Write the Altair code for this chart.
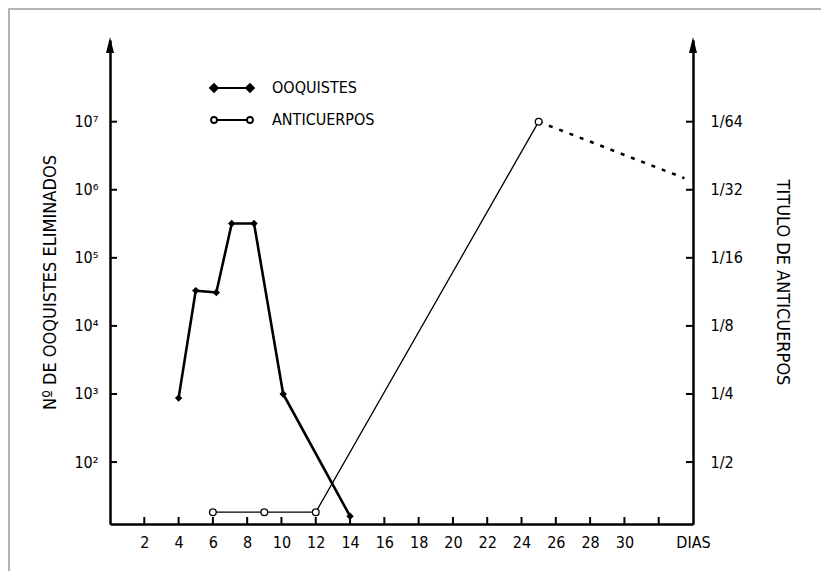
import altair as alt
import pandas as pd

# ---------------- data ----------------
ooq_days = [4, 5, 6.2, 7.1, 8.4, 10.1, 14]
ooq_counts = [870, 33000, 31000, 320000, 320000, 1000, 16]

anti_days = [6, 9, 12, 25]
anti_recip = [1.2, 1.2, 1.2, 64]          # reciprocal of the antibody titre (1/64 -> 64)
anti_dot_days = [25, 33.5]
anti_dot_recip = [64, 36]

x_ticks = list(range(2, 35, 2))
x_labels = [str(v) for v in range(2, 31, 2)] + ["", "DIAS"]
left_ticks = [1e2, 1e3, 1e4, 1e5, 1e6, 1e7]
left_labels = ["10²", "10³", "10⁴", "10⁵", "10⁶", "10⁷"]
right_ticks = [2, 4, 8, 16, 32, 64]
right_labels = ["1/2", "1/4", "1/8", "1/16", "1/32", "1/64"]
series = ["OOQUISTES", "ANTICUERPOS"]

FONT = "Liberation Sans Narrow, DejaVu Sans Condensed, Roboto Condensed, Arial Narrow, sans-serif"
W, H = 583, 484


def label_expr(vals, labels):
    expr = "''"
    for v, l in reversed(list(zip(vals, labels))):
        expr = f"datum.value == {v} ? '{l}' : ({expr})"
    return expr


xs = alt.Scale(domain=[0, 34], nice=False, zero=False)
ys_left = alt.Scale(type="log", domain=[10 ** 1.09, 10 ** 8.2], nice=False)
ys_right = alt.Scale(type="log", base=2, domain=[2 ** 0.09, 2 ** 7.2], nice=False)

common_axis = dict(ticks=False, grid=False, domainWidth=2.5, domainColor="black",
                   labelColor="black", labelOverlap=False, labelFlush=False,
                   titleColor="black", titleFontWeight="normal")

x_axis = alt.Axis(values=x_ticks, labelExpr=label_expr(x_ticks, x_labels),
                  labelFontSize=16, labelPadding=10, title=None, **common_axis)
left_axis = alt.Axis(values=left_ticks, labelExpr=label_expr(left_ticks, left_labels),
                     orient="left", labelFontSize=16, labelPadding=12,
                     title="Nº DE OOQUISTES ELIMINADOS", titleFontSize=18, titlePadding=14,
                     **common_axis)
right_axis = alt.Axis(values=right_ticks, labelExpr=label_expr(right_ticks, right_labels),
                      orient="right", labelFontSize=16, labelPadding=17,
                      title="TITULO DE ANTICUERPOS", titleFontSize=18, titlePadding=30,
                      **common_axis)


def X(field):
    return alt.X(field, type="quantitative", scale=xs, axis=x_axis)


ooq_df = pd.DataFrame({"dia": ooq_days, "n": ooq_counts})
anti_df = pd.DataFrame({"dia": anti_days, "t": anti_recip})
dot_df = pd.DataFrame({"dia": anti_dot_days, "t": anti_dot_recip})
one = pd.DataFrame({"k": [0]})

# legend symbols (custom paths: short line with a marker at each end)
path_ooq = "M-1.8,0L1.8,0M-2.2,0L-1.8,-0.4L-1.4,0L-1.8,0.4ZM1.4,0L1.8,-0.4L2.2,0L1.8,0.4Z"
path_anti = ("M-1.5,0L1.5,0M-2.1,0A0.3,0.3 0 1,0 -1.5,0A0.3,0.3 0 1,0 -2.1,0Z"
             "M1.5,0A0.3,0.3 0 1,0 2.1,0A0.3,0.3 0 1,0 1.5,0Z")
leg = alt.Legend(title=None, orient="none", legendX=111, legendY=37, symbolSize=400,
                 symbolStrokeWidth=1.8, symbolOpacity=1,
                 labelFontSize=16, labelOffset=29, rowPadding=13, labelColor="black",
                 padding=0)

# ---------------- left group (oocysts) ----------------
ooq_line = alt.Chart(ooq_df).mark_line(color="black", strokeWidth=2.6).encode(
    x=X("dia"), y=alt.Y("n:Q", scale=ys_left, axis=left_axis))
ooq_pts = alt.Chart(ooq_df).mark_point(shape="diamond", filled=True, color="black",
                                       size=55, opacity=1).encode(
    x=X("dia"), y=alt.Y("n:Q", scale=ys_left, axis=left_axis))
left_tm = alt.Chart(pd.DataFrame({"v": left_ticks})).mark_rule(color="black", strokeWidth=2).encode(
    y=alt.Y("v:Q", scale=ys_left, axis=left_axis), x=alt.value(0), x2=alt.value(7))
bottom_tm = alt.Chart(pd.DataFrame({"d": x_ticks[:-1]})).mark_rule(color="black", strokeWidth=2).encode(
    x=X("d"), y=alt.value(H), y2=alt.value(H - 7))
arrow_path = "M0,-1L0.5,1L-0.5,1Z"
arrow_l = alt.Chart(one).mark_point(shape=arrow_path, filled=True, color="black",
                                    size=256, opacity=1).encode(x=alt.value(0), y=alt.value(5))
border = alt.Chart(one).mark_rect(fill="transparent", stroke="#9a9a9a", strokeWidth=1.5).encode(
    x=alt.value(-101), x2=alt.value(900), y=alt.value(-31), y2=alt.value(700))
legend_pts = alt.Chart(pd.DataFrame({"serie": series})).mark_point(
    filled=True, stroke="black", strokeWidth=1.8, size=400, opacity=1).encode(
    x=alt.value(-3000), y=alt.value(-3000),
    shape=alt.Shape("serie:N", scale=alt.Scale(domain=series, range=[path_ooq, path_anti]), legend=leg),
    fill=alt.Fill("serie:N", scale=alt.Scale(domain=series, range=["black", "white"]), legend=leg))

left = alt.layer(border, ooq_line, ooq_pts, left_tm, bottom_tm, arrow_l, legend_pts)

# ---------------- right group (antibodies) ----------------
anti_line = alt.Chart(anti_df).mark_line(color="black", strokeWidth=1.3).encode(
    x=X("dia"), y=alt.Y("t:Q", scale=ys_right, axis=right_axis))
dot_line = alt.Chart(dot_df).mark_line(color="black", strokeWidth=2.6, strokeDash=[4, 7]).encode(
    x=X("dia"), y=alt.Y("t:Q", scale=ys_right, axis=right_axis))
anti_pts = alt.Chart(anti_df).mark_point(shape="circle", fill="white", stroke="black",
                                         strokeWidth=1.3, size=45, opacity=1).encode(
    x=X("dia"), y=alt.Y("t:Q", scale=ys_right, axis=right_axis))
right_tm = alt.Chart(pd.DataFrame({"v": right_ticks})).mark_rule(color="black", strokeWidth=2).encode(
    y=alt.Y("v:Q", scale=ys_right, axis=right_axis), x=alt.value(W), x2=alt.value(W - 7))
arrow_r = alt.Chart(one).mark_point(shape=arrow_path, filled=True, color="black",
                                    size=256, opacity=1).encode(x=alt.value(W), y=alt.value(5))

right = alt.layer(anti_line, dot_line, anti_pts, right_tm, arrow_r)

chart = alt.layer(left, right).resolve_scale(y="independent").properties(
    width=W, height=H,
    padding={"left": 102, "top": 32, "right": 128, "bottom": 47},
    autosize=alt.AutoSizeParams(type="none"),
).configure(font=FONT).configure_view(stroke=None)

chart.save("out.html", embed_options={"renderer": "svg", "actions": False})
